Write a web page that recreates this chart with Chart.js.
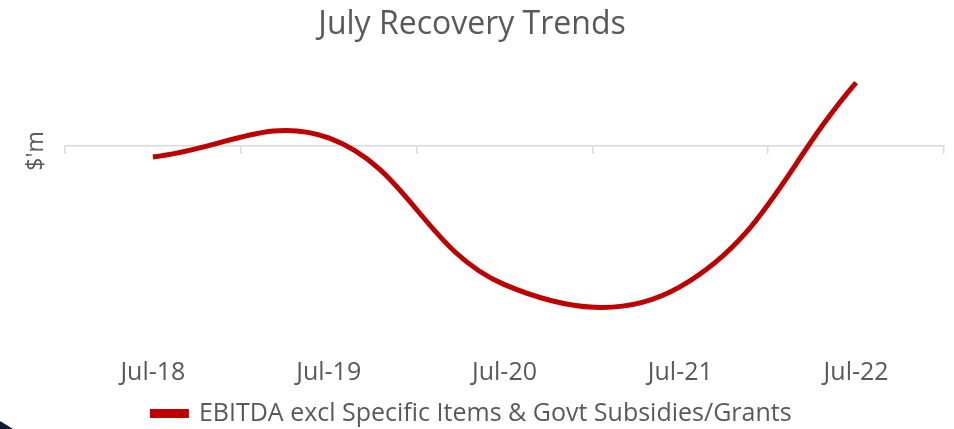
<!DOCTYPE html>
<html>
<head>
<meta charset="utf-8">
<script src="https://cdn.jsdelivr.net/npm/chart.js@4"></script>
<style>
  html, body { margin: 0; padding: 0; background: #fff; }
  #wrap { width: 954px; height: 429px; position: relative; }
</style>
</head>
<body>
<div id="wrap"><canvas id="myChart"></canvas></div>
<script>
var labels = ['Jul-18', 'Jul-19', 'Jul-20', 'Jul-21', 'Jul-22'];
var ebitda = [-11, 8, -138, -140, 63];
var seriesName = 'EBITDA excl Specific Items & Govt Subsidies/Grants';

var grey = '#595959';
var axisGrey = '#d9d9d9';

// y title sits next to the zero line, like the original
var yTitle = {
    id: 'yTitle',
    afterDraw: function(chart) {
        var ctx = chart.ctx;
        var y0 = chart.scales.y.getPixelForValue(0);
        ctx.save();
        ctx.translate(36, y0 + 5);
        ctx.rotate(-Math.PI / 2);
        ctx.font = '23px "Open Sans"';
        ctx.fillStyle = grey;
        ctx.textAlign = 'center';
        ctx.textBaseline = 'middle';
        ctx.fillText("$'m", 0, 0);
        ctx.restore();

        // corner decoration
        ctx.save();
        ctx.fillStyle = '#0f1a2e';
        ctx.beginPath();
        ctx.moveTo(0, 421);
        ctx.lineTo(13, 429);
        ctx.lineTo(0, 429);
        ctx.closePath();
        ctx.fill();
        ctx.restore();
    }
};

var ctx = document.getElementById('myChart').getContext('2d');
var chart = new Chart(ctx, {
    type: 'line',
    data: {
        labels: labels,
        datasets: [{
            label: seriesName,
            data: ebitda,
            borderColor: '#c00000',
            backgroundColor: '#c00000',
            borderWidth: 5,
            tension: 0.4,
            pointRadius: 0,
            xAxisID: 'x'
        }]
    },
    options: {
        responsive: true,
        maintainAspectRatio: false,
        animation: false,
        layout: { padding: { left: 0, right: 10, top: 6, bottom: -7 } },
        plugins: {
            title: {
                display: true,
                text: 'July Recovery Trends',
                color: grey,
                font: { family: 'Open Sans', size: 32, weight: 'normal' },
                padding: { top: 0, bottom: 12 }
            },
            legend: {
                position: 'bottom',
                labels: {
                    color: grey,
                    font: { family: 'Open Sans', size: 25 },
                    boxWidth: 34,
                    boxHeight: 4,
                    padding: 0
                }
            },
            tooltip: { enabled: false }
        },
        scales: {
            x: {
                offset: true,
                grid: { display: false },
                border: { display: false },
                ticks: {
                    color: grey,
                    font: { family: 'Open Sans', size: 25 },
                    padding: 5,
                    maxRotation: 0
                },
                afterFit: function(scale) { scale.height += 8; }
            },
            x2: {
                type: 'category',
                labels: labels,
                position: { y: 0 },
                offset: true,
                grid: {
                    display: true,
                    offset: true,
                    drawOnChartArea: false,
                    drawTicks: true,
                    tickLength: 7,
                    color: axisGrey,
                    lineWidth: 1.5
                },
                border: { display: true, color: axisGrey, width: 1.5 },
                ticks: { display: false }
            },
            y: {
                display: true,
                min: -198,
                max: 89,
                grid: { display: false },
                border: { display: false },
                ticks: { display: false },
                afterFit: function(scale) { scale.width = 65; }
            }
        }
    },
    plugins: [yTitle]
});
</script>
</body>
</html>
